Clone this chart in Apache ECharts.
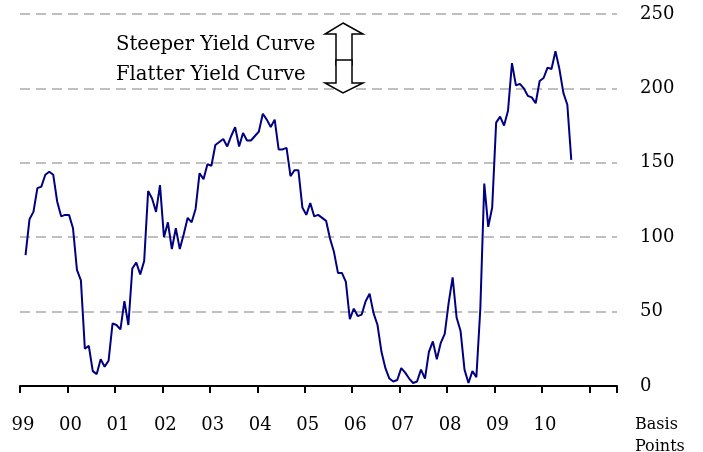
<!DOCTYPE html>
<html>
<head>
<meta charset="utf-8">
<script src="https://cdn.jsdelivr.net/npm/echarts@6/dist/echarts.min.js"></script>
<style>
  html, body { margin: 0; padding: 0; background: #fff; }
  #chart { width: 703px; height: 452px; }
</style>
</head>
<body>
<div id="chart"></div>
<script>
// monthly spread in basis points, Jan 1999 .. Jul 2010
const firstYear = 1999
const spread = [
  88, 112, 117, 133, 134, 142, 144, 142, 124, 114, 115, 115,
  106, 78, 71, 25, 27, 10, 8, 18, 13, 17, 42, 41,
  38, 57, 41, 79, 83, 75, 84, 131, 126, 117, 135, 100,
  110, 92, 106, 92, 102, 113, 110, 119, 143,
  139, 149, 148, 162, 164, 166, 161, 168, 174, 161, 170, 165,
  165, 168, 171, 183, 179, 174, 179, 159, 159, 160, 141, 145,
  145, 120, 115, 123, 114, 115, 113, 111, 99, 90, 76, 76,
  70, 45, 52, 47, 48, 57, 62, 49, 41, 23, 12, 5,
  3, 4, 12, 9, 5, 2, 3,
  11, 5, 23, 30, 18, 29, 35, 56, 73, 46, 37, 11,
  2, 10, 6, 52, 136, 107, 120, 177, 181, 175, 185, 217,
  202, 203, 200, 195, 194, 190, 205, 207, 214, 213, 225, 213,
  197, 189, 152
]
const yTicks = [0, 50, 100, 150, 200, 250]
const annotations = ['Steeper Yield Curve', 'Flatter Yield Curve']
const unitLabel = 'Basis\nPoints'

const serif = 'DejaVu Serif'
const points = spread.map((v, i) => [firstYear + (i + 1.4) / 12, v])

const chart = echarts.init(document.getElementById('chart'))

const option = {
  animation: false,
  backgroundColor: '#fff',
  grid: { left: 20, right: 86, top: 14, bottom: 66 },
  xAxis: {
    type: 'value',
    min: firstYear,
    max: 2011.58,
    interval: 1,
    axisLine: { lineStyle: { color: '#000', width: 2 } },
    axisTick: { show: true, length: 7, lineStyle: { color: '#000', width: 2 } },
    splitLine: { show: false },
    axisLabel: {
      margin: 30,
      padding: [0, 0, 0, 6],
      fontFamily: serif,
      fontSize: 18,
      color: '#000',
      formatter: function (v) {
        return v < 2011 ? String(v).slice(2) : ''
      }
    }
  },
  yAxis: {
    type: 'value',
    position: 'right',
    min: yTicks[0],
    max: yTicks[yTicks.length - 1],
    interval: 50,
    axisLine: { show: false },
    axisTick: { show: false },
    splitLine: { lineStyle: { color: '#c0c0c0', width: 2, type: [10, 6] } },
    axisLabel: {
      margin: 23,
      padding: [6, 0, 0, 0],
      fontFamily: serif,
      fontSize: 18,
      color: '#000'
    }
  },
  series: [
    {
      type: 'line',
      data: points,
      showSymbol: false,
      lineStyle: { color: '#000080', width: 2 }
    }
  ],
  graphic: [
    {
      type: 'text', left: 116, top: 35, z: 10,
      style: { text: annotations[0], font: '19.6px "DejaVu Serif"', fill: '#000' }
    },
    {
      type: 'text', left: 116, top: 65, z: 10,
      style: { text: annotations[1], font: '19.6px "DejaVu Serif"', fill: '#000' }
    },
    /* up / down arrows */
    {
      type: 'polygon', z: 10,
      shape: { points: [[343, 23], [363, 34], [352, 34], [352, 65], [336, 65], [336, 34], [325, 34]] },
      style: { fill: '#fff', stroke: '#000', lineWidth: 1.5 }
    },
    {
      type: 'polygon', z: 10,
      shape: { points: [[336, 60], [352, 60], [352, 83], [363, 83], [343, 93], [325, 83], [336, 83]] },
      style: { fill: '#fff', stroke: '#000', lineWidth: 1.5 }
    },
    {
      type: 'text', left: 635, top: 414, z: 10,
      style: { text: unitLabel, font: '16px "DejaVu Serif"', lineHeight: 22, fill: '#000' }
    }
  ]
}
chart.setOption(option)
</script>
</body>
</html>
